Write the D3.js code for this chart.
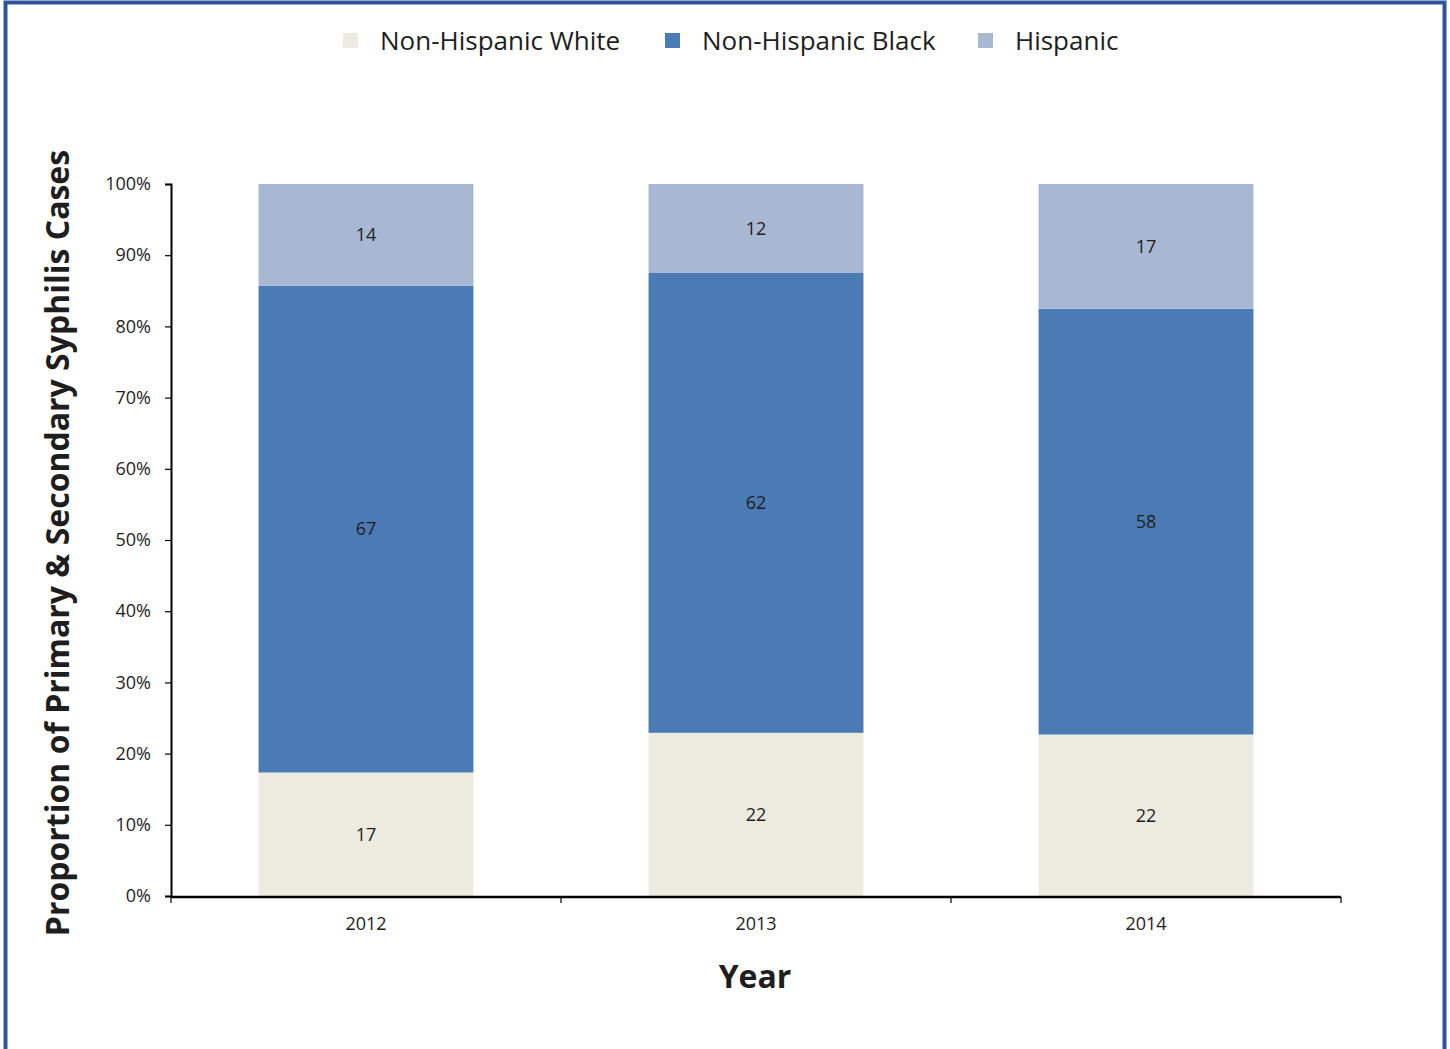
<!DOCTYPE html>
<html>
<head>
<meta charset="utf-8">
<script src="https://cdn.jsdelivr.net/npm/d3@7"></script>
<style>
  html, body { margin: 0; padding: 0; background: #fff; }
  svg { display: block; }
  text { font-family: "Open Sans", "Liberation Sans", sans-serif; fill: #1e1e1e; }
</style>
</head>
<body>
<svg id="chart" width="1450" height="1049"></svg>
<script>
// Share of primary & secondary syphilis cases by race/ethnicity
const years = ["2012", "2013", "2014"];
const groups = ["Non-Hispanic White", "Non-Hispanic Black", "Hispanic"];
const white = [17, 22, 22];
const black = [67, 62, 58];
const hispanic = [14, 12, 17];
const yTicks = [0, 0.1, 0.2, 0.3, 0.4, 0.5, 0.6, 0.7, 0.8, 0.9, 1.0];
const colors = ["#ecebe0", "#4b7bb4", "#a8b8d3"];

const series = [white, black, hispanic];
const rows = years.map((yr, i) => {
  const r = { year: yr };
  groups.forEach((g, k) => { r[g] = series[k][i]; });
  return r;
});

const svg = d3.select("#chart");
const W = 1450, H = 1049;

// frame
svg.append("rect").attr("x", 5.5).attr("y", 2.5).attr("width", W - 11).attr("height", H + 10)
  .attr("fill", "none").attr("stroke", "#30549a").attr("stroke-width", 4);

const plotL = 171, plotR = 1341, plotT = 184, plotB = 896;

const x = d3.scaleBand().domain(years).range([plotL, plotR]).paddingInner(0.449).paddingOuter(0.2245);
const y = d3.scaleLinear().domain([0, 1]).range([plotB, plotT]);

// stacked as share of the three groups
const stack = d3.stack().keys(groups).offset(d3.stackOffsetExpand);
const stacked = stack(rows);

const layer = svg.append("g").selectAll("g").data(stacked).join("g")
  .attr("fill", (d, i) => colors[i]);

layer.selectAll("rect").data(d => d.map(p => ({ p, key: d.key }))).join("rect")
  .attr("x", d => x(d.p.data.year))
  .attr("width", x.bandwidth())
  .attr("y", d => y(d.p[1]))
  .attr("height", d => y(d.p[0]) - y(d.p[1]));

const labels = svg.append("g").selectAll("g").data(stacked).join("g");
labels.selectAll("text").data(d => d.map(p => ({ p, key: d.key }))).join("text")
  .attr("x", d => x(d.p.data.year) + x.bandwidth() / 2)
  .attr("y", d => (y(d.p[0]) + y(d.p[1])) / 2)
  .attr("dy", "0.35em")
  .attr("text-anchor", "middle")
  .style("font-size", "18px")
  .text(d => d.p.data[d.key]);

// y axis
const yAxis = svg.append("g").attr("transform", `translate(${plotL},0)`)
  .call(d3.axisLeft(y).tickValues(yTicks).tickFormat(d3.format(".0%")).tickSize(6).tickPadding(14));
yAxis.select(".domain").attr("stroke", "#000").attr("stroke-width", 2);
yAxis.selectAll(".tick line").attr("stroke", "#000").attr("stroke-width", 1.2);
yAxis.selectAll(".tick text").style("font-size", "18px").attr("fill", "#1e1e1e");

// x axis with ticks at category boundaries
const xAxisG = svg.append("g").attr("transform", `translate(0,${plotB + 1})`);
xAxisG.append("line").attr("x1", plotL).attr("x2", plotR).attr("stroke", "#000").attr("stroke-width", 2.5);
const bounds = d3.range(years.length + 1).map(i => plotL + i * x.step());
xAxisG.selectAll(".bt").data(bounds).join("line").attr("class", "bt")
  .attr("x1", d => d).attr("x2", d => d).attr("y1", 0).attr("y2", 6)
  .attr("stroke", "#000").attr("stroke-width", 1.2);
xAxisG.selectAll(".yl").data(years).join("text").attr("class", "yl")
  .attr("x", d => x(d) + x.bandwidth() / 2)
  .attr("y", 33)
  .attr("text-anchor", "middle")
  .style("font-size", "18px")
  .text(d => d);

// axis titles
svg.append("text").attr("x", 755).attr("y", 988).attr("text-anchor", "middle")
  .style("font-size", "32px").style("font-weight", "bold").text("Year");
svg.append("text").attr("transform", "translate(69,543) rotate(-90)").attr("text-anchor", "middle")
  .style("font-size", "32px").style("font-weight", "bold")
  .text("Proportion of Primary & Secondary Syphilis Cases");

// legend
const legendX = [343, 665, 978];
const leg = svg.append("g").selectAll("g").data(groups).join("g")
  .attr("transform", (d, i) => `translate(${legendX[i]},33)`);
leg.append("rect").attr("width", 15).attr("height", 15).attr("fill", (d, i) => colors[i]);
leg.append("text").attr("x", 37).attr("y", 8).attr("dy", "0.35em")
  .style("font-size", "26px").text(d => d);
</script>
</body>
</html>
